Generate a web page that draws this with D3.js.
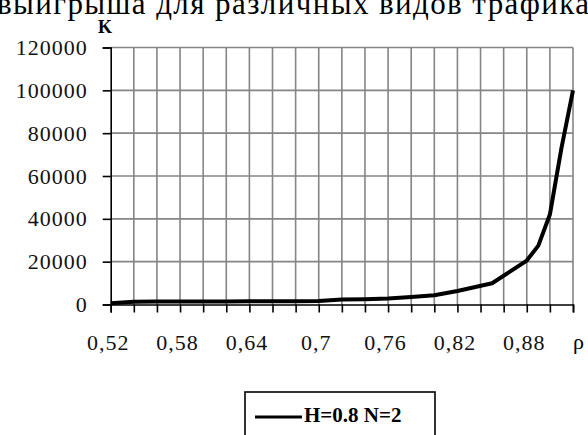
<!DOCTYPE html>
<html>
<head>
<meta charset="utf-8">
<script src="https://cdn.jsdelivr.net/npm/d3@7/dist/d3.min.js"></script>
<style>
  html, body { margin: 0; padding: 0; background: #fff; }
  svg { display: block; }
  text { font-family: "Liberation Serif", "Times New Roman", serif; }
</style>
</head>
<body>
<svg width="588" height="435"></svg>
<script>
// Data
const rho = [0.52, 0.54, 0.56, 0.58, 0.60, 0.62, 0.64, 0.66, 0.68, 0.70, 0.72, 0.74,
             0.76, 0.78, 0.80, 0.82, 0.85, 0.88, 0.89, 0.90, 0.91, 0.92];
const kValues = [600, 1300, 1350, 1400, 1420, 1450, 1480, 1500, 1550, 1600, 2300, 2500,
                 2800, 3500, 4300, 6300, 9900, 20500, 27500, 42000, 73000, 100000];

const xTicks = d3.range(21).map(i => +(0.52 + i * 0.02).toFixed(2));
const xLabelValues = [0.52, 0.58, 0.64, 0.70, 0.76, 0.82, 0.88];
const xLabels = ["0,52", "0,58", "0,64", "0,7", "0,76", "0,82", "0,88"];
const yTicks = [0, 20000, 40000, 60000, 80000, 100000, 120000];
const seriesName = "H=0.8 N=2";

const svg = d3.select("svg");
const serif = "'Liberation Serif', 'Times New Roman', serif";

// Body text line cut off at the top of the page
svg.append("text")
    .attr("x", -3)
    .attr("y", 14)
    .attr("textLength", 592)
    .attr("lengthAdjust", "spacing")
    .style("font-family", serif)
    .style("font-size", "31px")
    .text("выигрыша для различных видов трафика");

const x = d3.scaleLinear().domain([0.52, 0.92]).range([110.7, 573]);
const y = d3.scaleLinear().domain([0, 120000]).range([304.5, 47.5]);

// Grid
const grid = svg.append("g").attr("stroke", "#858585").attr("stroke-width", 1.6);
grid.selectAll("line.v")
    .data(xTicks.slice(1))
    .enter().append("line")
    .attr("class", "v")
    .attr("x1", d => x(d)).attr("x2", d => x(d))
    .attr("y1", y(0)).attr("y2", y(120000));
grid.selectAll("line.h")
    .data(yTicks.slice(1))
    .enter().append("line")
    .attr("class", "h")
    .attr("x1", x(0.52)).attr("x2", x(0.92))
    .attr("y1", d => y(d)).attr("y2", d => y(d));

// Axes
const labelOf = v => {
    const i = xLabelValues.findIndex(l => Math.abs(l - v) < 1e-9);
    return i >= 0 ? xLabels[i] : "";
};

const xAxis = svg.append("g")
    .attr("transform", `translate(0,${y(0)})`)
    .call(d3.axisBottom(x).tickValues(xTicks).tickSize(8).tickPadding(22).tickFormat(labelOf));

const yAxis = svg.append("g")
    .attr("transform", `translate(${x(0.52)},0)`)
    .call(d3.axisLeft(y).tickValues(yTicks).tickSize(8).tickPadding(15).tickFormat(d3.format("d")));

[xAxis, yAxis].forEach(a => {
    a.attr("font-family", serif).attr("font-size", 22);
    a.select(".domain").attr("stroke", "#000").attr("stroke-width", 1.6);
    a.selectAll(".tick line").attr("stroke", "#000").attr("stroke-width", 1.6);
    a.selectAll(".tick text")
        .attr("fill", "#111")
        .style("font-family", serif)
        .style("font-size", "22px")
        .style("letter-spacing", "1px");
});
xAxis.selectAll(".tick text").attr("dx", -3);

// Axis titles
svg.append("text")
    .attr("x", 105).attr("y", 33)
    .attr("text-anchor", "middle")
    .style("font-family", serif)
    .style("font-size", "18px")
    .style("font-weight", "bold")
    .text("K");

svg.append("text")
    .attr("x", 573).attr("y", 349)
    .style("font-family", serif)
    .style("font-size", "22px")
    .text("ρ");

// Series line
const line = d3.line()
    .x((d, i) => x(rho[i]))
    .y(d => y(d));

svg.append("path")
    .datum(kValues)
    .attr("fill", "none")
    .attr("stroke", "#000")
    .attr("stroke-width", 4)
    .attr("stroke-linejoin", "round")
    .attr("d", line);

// Legend
const legend = svg.append("g");
legend.append("rect")
    .attr("x", 245).attr("y", 392)
    .attr("width", 190).attr("height", 60)
    .attr("fill", "#fff")
    .attr("stroke", "#000")
    .attr("stroke-width", 1.6);
legend.append("line")
    .attr("x1", 255).attr("x2", 302)
    .attr("y1", 417).attr("y2", 417)
    .attr("stroke", "#000")
    .attr("stroke-width", 3);
legend.append("text")
    .attr("x", 304).attr("y", 422)
    .style("font-family", serif)
    .style("font-size", "21px")
    .style("font-weight", "bold")
    .text(seriesName);
</script>
</body>
</html>
